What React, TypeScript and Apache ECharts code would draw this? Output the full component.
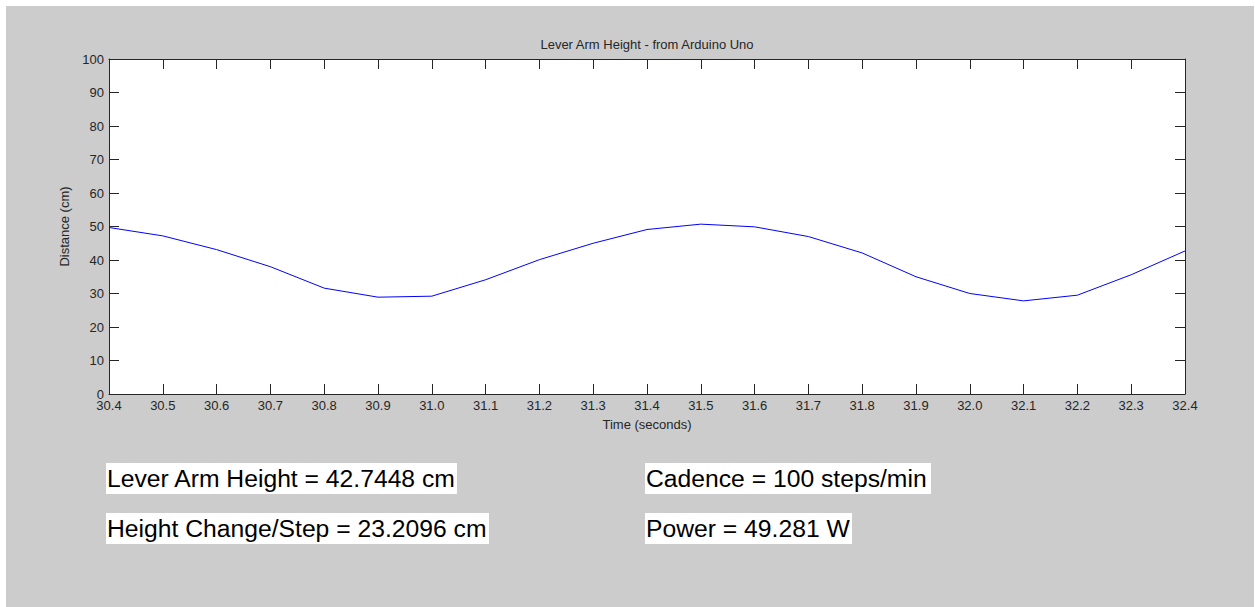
import React, { useEffect, useRef } from "react";
import * as echarts from "echarts";

const times = [30.4, 30.5, 30.6, 30.7, 30.8, 30.9, 31.0, 31.1, 31.2, 31.3, 31.4, 31.5, 31.6, 31.7, 31.8, 31.9, 32.0, 32.1, 32.2, 32.3, 32.4];
const distances = [49.7, 47.2, 43.1, 38.0, 31.6, 28.9, 29.2, 34.1, 40.1, 45.0, 49.1, 50.7, 49.9, 47.0, 42.1, 35.0, 30.0, 27.8, 29.5, 35.6, 42.7];

const chartTitle = "Lever Arm Height - from Arduino Uno";
const xTitle = "Time (seconds)";
const yTitle = "Distance (cm)";
const infoTexts = [
  "Lever Arm Height = 42.7448 cm",
  "Height Change/Step = 23.2096 cm",
  "Cadence = 100 steps/min",
  "Power = 49.281 W",
];

const FONT = '"Liberation Sans", Arial, sans-serif';
const AX = "#262626";

export default function App() {
  const ref = useRef<HTMLDivElement>(null);
  useEffect(() => {
    if (!ref.current) return;
    const chart = echarts.init(ref.current, null, { renderer: "svg" });
    const axisCommonX = {
      type: "value" as const,
      min: 30.4,
      max: 32.4,
      interval: 0.1,
      axisLine: { show: true, onZero: false, lineStyle: { color: AX, width: 1 } },
      axisTick: { show: true, inside: true, length: 10, lineStyle: { color: AX } },
      splitLine: { show: false },
    };
    const axisCommonY = {
      type: "value" as const,
      min: 0,
      max: 100,
      interval: 10,
      axisLine: { show: true, onZero: false, lineStyle: { color: AX, width: 1 } },
      axisTick: { show: true, inside: true, length: 10, lineStyle: { color: AX } },
      splitLine: { show: false },
    };
    const boxes = [
      { x: 100, y: 457, w: 351 },
      { x: 100, y: 507, w: 383 },
      { x: 639, y: 457, w: 286 },
      { x: 639, y: 507, w: 207 },
    ];
    chart.setOption({
      animation: false,
      backgroundColor: "#cccccc",
      grid: {
        left: 103,
        top: 53,
        width: 1076,
        height: 335,
        show: true,
        backgroundColor: "#ffffff",
        borderWidth: 0,
      },
      xAxis: [
        {
          ...axisCommonX,
          position: "bottom",
          name: xTitle,
          nameLocation: "middle",
          nameGap: 24,
          nameTextStyle: { fontFamily: FONT, fontSize: 13, color: AX },
          axisLabel: {
            show: true,
            margin: 5,
            fontFamily: FONT,
            fontSize: 13,
            color: AX,
            formatter: (v: number) => v.toFixed(1),
          },
        },
        {
          ...axisCommonX,
          position: "top",
          axisLabel: { show: false },
        },
      ],
      yAxis: [
        {
          ...axisCommonY,
          position: "left",
          name: yTitle,
          nameLocation: "middle",
          nameGap: 36,
          nameTextStyle: { fontFamily: FONT, fontSize: 13, color: AX },
          axisLabel: { show: true, margin: 5, fontFamily: FONT, fontSize: 13, color: AX },
        },
        {
          ...axisCommonY,
          position: "right",
          axisLabel: { show: false },
        },
      ],
      series: [
        {
          type: "line",
          xAxisIndex: 0,
          yAxisIndex: 0,
          data: times.map((t, i) => [t, distances[i]]),
          showSymbol: false,
          symbol: "none",
          lineStyle: { color: "#0000ff", width: 1 },
        },
      ],
      graphic: [
        {
          type: "text",
          x: 641,
          y: 38,
          style: {
            text: chartTitle,
            font: `13px ${FONT}`,
            fill: AX,
            textAlign: "center",
            textVerticalAlign: "middle",
          },
        },
        ...boxes.map((b) => ({
          type: "rect",
          shape: { x: b.x, y: b.y, width: b.w, height: 31 },
          style: { fill: "#ffffff" },
        })),
        ...boxes.map((b, i) => ({
          type: "text",
          x: b.x + 1,
          y: b.y + 15,
          style: {
            text: infoTexts[i],
            font: `24.7px ${FONT}`,
            fill: "#000000",
            textAlign: "left",
            textVerticalAlign: "middle",
          },
        })),
      ],
    });
    return () => chart.dispose();
  }, []);
  return (
    <div
      ref={ref}
      style={{ position: "fixed", left: 6, top: 6, width: 1248, height: 601 }}
    />
  );
}
